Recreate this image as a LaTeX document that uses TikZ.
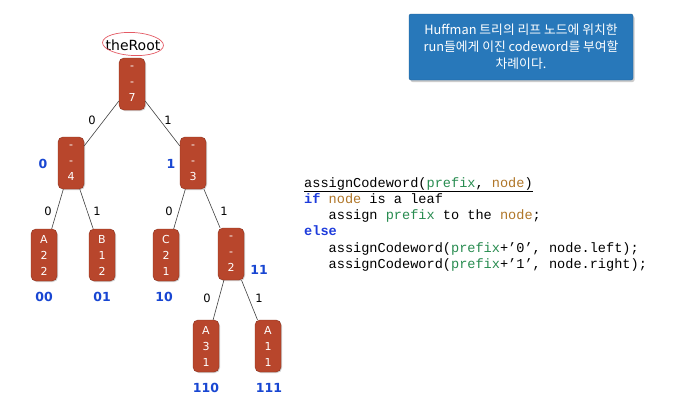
\documentclass[tikz,border=0pt]{standalone}
\usepackage{fontspec}
\setmainfont{DejaVu Sans}
\setmonofont{Liberation Mono}
\newfontfamily\krfont{Noto Sans CJK KR}
\usetikzlibrary{shapes.geometric,shadows}
\definecolor{rust}{RGB}{184,70,44}
\definecolor{rustdark}{RGB}{140,48,28}
\definecolor{codeblue}{RGB}{24,70,210}
\definecolor{kwblue}{RGB}{30,60,220}
\definecolor{pgreen}{RGB}{40,140,80}
\definecolor{nbrown}{RGB}{176,118,40}
\definecolor{calloutblue}{RGB}{40,120,186}
\definecolor{rootred}{RGB}{228,90,100}
\tikzset{
  treenode/.style={draw=rustdark, fill=rust, rounded corners=5pt,
    minimum width=26pt, minimum height=52pt, inner sep=1pt,
    text=white, align=center, font=\fontsize{11}{16}\selectfont,
    drop shadow={shadow xshift=1pt, shadow yshift=-1pt, opacity=0.35}},
  edge/.style={draw=black!75, line width=0.6pt},
  bitlabel/.style={font=\fontsize{11.5}{13}\selectfont, text=black},
  codelabel/.style={font=\bfseries\fontsize{12.5}{14}\selectfont, text=codeblue},
}
\begin{document}
\begin{tikzpicture}[x=1pt,y=-1pt]
\useasboundingbox[fill=white] (0,0) rectangle (677,418);

% callout
\node[fill=calloutblue, draw=calloutblue!80!black, rounded corners=2pt,
  minimum width=224pt, minimum height=66pt, text=white, align=center,
  font=\krfont\fontsize{12.8}{17}\selectfont,
  drop shadow={shadow xshift=1.5pt, shadow yshift=-2pt, opacity=0.4}]
  (callout) at (521,47) {Huffman 트리의 리프 노드에 위치한\\run들에게 이진 codeword를 부여할\\차례이다.};

% tree nodes
\node[treenode] (root) at (132,84)  {-\\-\\7};
\node[treenode] (n4)   at (71,163)  {-\\-\\4};
\node[treenode] (n3)   at (193,163) {-\\-\\3};
\node[treenode] (a22)  at (44,255)  {A\\2\\2};
\node[treenode] (b12)  at (102,255) {B\\1\\2};
\node[treenode] (c21)  at (166,255) {C\\2\\1};
\node[treenode] (n2)   at (231,254) {-\\-\\2};
\node[treenode] (a31)  at (206,346) {A\\3\\1};
\node[treenode] (a11)  at (268,346) {A\\1\\1};

% root label with hand-drawn ring
\node[font=\fontsize{14}{16}\selectfont] (rootlabel) at (133,45) {theRoot};
\node[ellipse, draw=rootred, line width=0.7pt, minimum width=61pt,
  minimum height=23pt, rotate=-3] (ring) at (133,44) {};

% edges
\draw[edge] (root) -- (n4);
\draw[edge] (root) -- (n3);
\draw[edge] (n4) -- (a22);
\draw[edge] (n4) -- (b12);
\draw[edge] (n3) -- (c21);
\draw[edge] (n3) -- (n2);
\draw[edge] (n2) -- (a31);
\draw[edge] (n2) -- (a11);

% edge bits
\node[bitlabel] (e1) at (92,120)  {0};
\node[bitlabel] (e2) at (168,120) {1};
\node[bitlabel] (e3) at (48,211)  {0};
\node[bitlabel] (e4) at (97,211)  {1};
\node[bitlabel] (e5) at (169,211) {0};
\node[bitlabel] (e6) at (224,211) {1};
\node[bitlabel] (e7) at (207,298) {0};
\node[bitlabel] (e8) at (259,298) {1};

% codewords
\node[codelabel] (cw0)   at (43,164)  {0};
\node[codelabel] (cw1)   at (171,164) {1};
\node[codelabel] (cw00)  at (44,297)  {00};
\node[codelabel] (cw01)  at (102,297) {01};
\node[codelabel] (cw10)  at (164,297) {10};
\node[codelabel] (cw11)  at (259,270) {11};
\node[codelabel] (cw110) at (206,388) {110};
\node[codelabel] (cw111) at (269,388) {111};

% pseudocode
\node[anchor=north west, align=left, inner sep=0pt, text=black,
  font=\ttfamily\fontsize{13.6}{16.3}\selectfont] (code) at (304,177)
{\underline{assignCodeword(\textcolor{pgreen}{prefix}, \textcolor{nbrown}{node})}\\
\textcolor{kwblue}{\bfseries if} \textcolor{nbrown}{node} is a leaf\\
\phantom{xxx}assign \textcolor{pgreen}{prefix} to the \textcolor{nbrown}{node};\\
\textcolor{kwblue}{\bfseries else}\\
\phantom{xxx}assignCodeword(\textcolor{pgreen}{prefix}+’0’, node.left);\\
\phantom{xxx}assignCodeword(\textcolor{pgreen}{prefix}+’1’, node.right);};
\end{tikzpicture}
\end{document}
